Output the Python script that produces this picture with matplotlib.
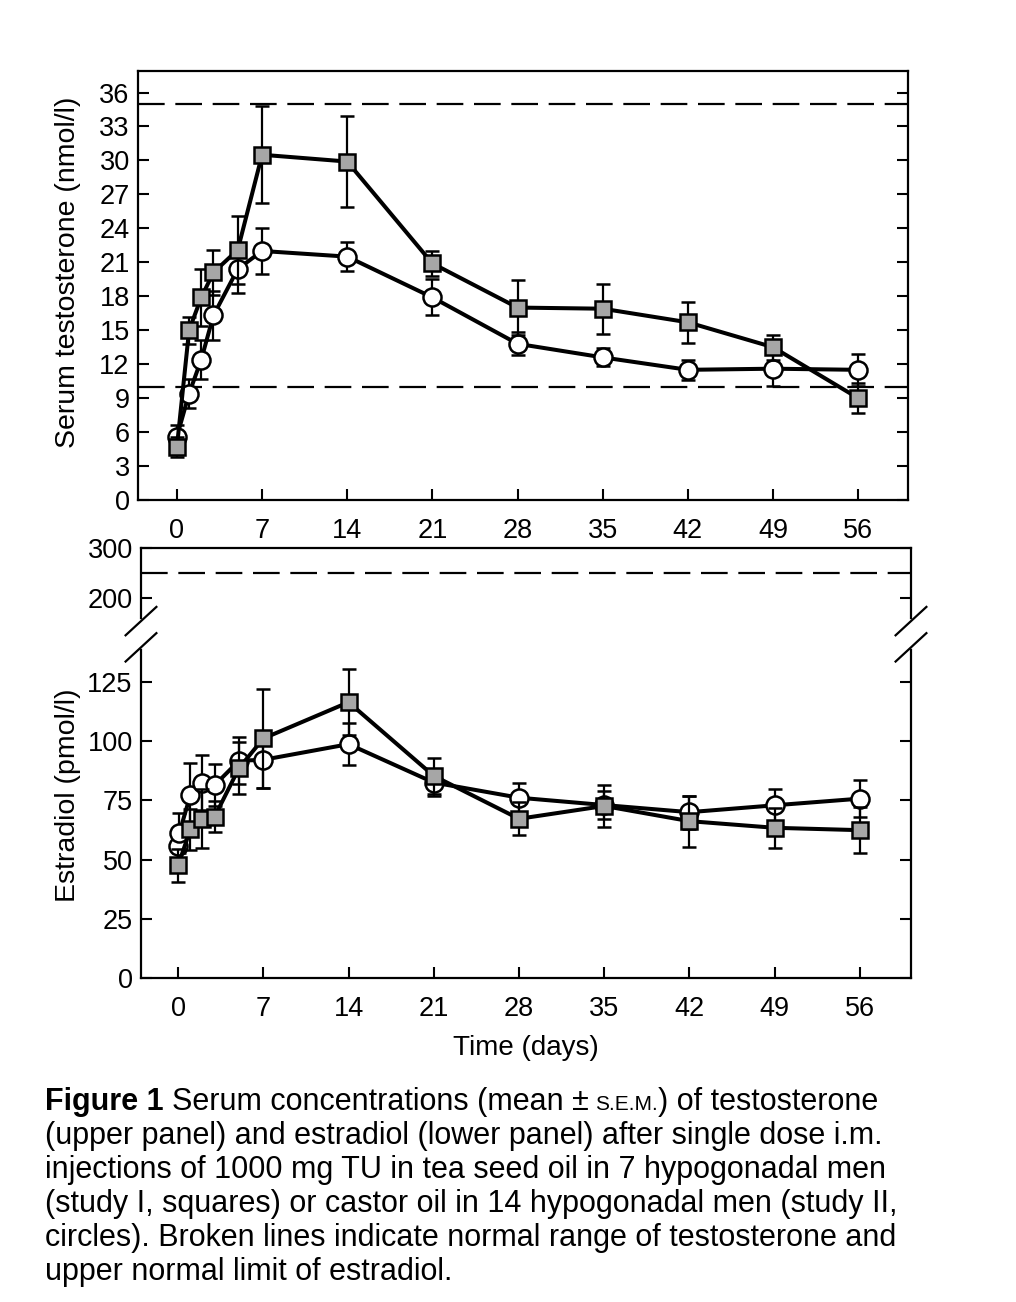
import numpy as np
import matplotlib
matplotlib.use("Agg")
import matplotlib.pyplot as plt

plt.rcParams['font.family'] = ['Liberation Sans', 'DejaVu Sans']

# sampling days
days = [0, 1, 2, 3, 5, 7, 14, 21, 28, 35, 42, 49, 56]
days_e2 = [0, 0.1, 1, 2, 3, 5, 7, 14, 21, 28, 35, 42, 49, 56]

# testosterone (nmol/l), study I squares / study II circles
testo_sq = [4.7, 15.0, 17.9, 20.1, 22.1, 30.5, 29.9, 20.9, 17.0, 16.9, 15.7, 13.5, 9.0]
testo_sq_err = [0.9, 1.2, 2.5, 2.0, 3.0, 4.3, 4.0, 1.1, 2.4, 2.2, 1.8, 1.1, 1.3]
testo_ci = [5.6, 9.4, 12.4, 16.3, 20.4, 22.0, 21.5, 17.9, 13.8, 12.6, 11.5, 11.6, 11.5]
testo_ci_err = [1.0, 1.3, 1.7, 2.2, 2.1, 2.0, 1.3, 1.6, 1.0, 0.8, 0.9, 1.5, 1.4]

# estradiol (pmol/l)
e2_sq = [47.5, 62.7, 67.2, 68.1, 88.6, 101.1, 116.4, 85.3, 67.2, 72.6, 66.2, 63.4, 62.4]
e2_sq_err = [7, 8.5, 12.4, 6.4, 11, 21, 14, 7.5, 7, 9, 10.8, 8.4, 9.6]
e2_ci = [55.6, 61.3, 77.1, 82.5, 81.4, 91.7, 92.1, 98.7, 82.5, 76.1, 73.0, 70.0, 72.9, 75.7]
e2_ci_err = [5, 8.5, 13.6, 11.6, 9, 10, 11.7, 9, 5.5, 6.4, 6, 7, 7, 7.8]

testo_range = [10, 35]
e2_upper = 250

xticks = [0, 7, 14, 21, 28, 35, 42, 49, 56]
testo_ticks = list(range(0, 37, 3))
e2_ticks = [0, 25, 50, 75, 100, 125, 200, 300]

# broken estradiol axis: compress values above BRK
BRK, K = 150.0, 0.21


def fwd(y):
    y = np.asarray(y, float)
    return np.where(y <= BRK, y, BRK + (y - BRK) * K)


def inv(u):
    u = np.asarray(u, float)
    return np.where(u <= BRK, u, BRK + (u - BRK) / K)


W, H = 1016, 1302
fig = plt.figure(figsize=(W / 100, H / 100), dpi=100)
ax1 = fig.add_axes([138 / W, 1 - 500 / H, 770 / W, 429 / H])
ax2 = fig.add_axes([141 / W, 1 - 978 / H, 770 / W, 430 / H])

dash = (0, (12, 4.8))
sq_kw = dict(marker='s', ms=11, mfc='#a6a6a6', mec='black', mew=1.8)
ci_kw = dict(marker='o', ms=13, mfc='white', mec='black', mew=1.8)
err_kw = dict(ecolor='black', elinewidth=1.6, capsize=5, capthick=1.6, color='black', lw=2.9)

# upper panel
for v in testo_range:
    ax1.axhline(v, color='black', lw=1.6, ls=dash, zorder=1)
ax1.errorbar(days, testo_ci, yerr=testo_ci_err, zorder=3, **err_kw, **ci_kw)
ax1.errorbar(days, testo_sq, yerr=testo_sq_err, zorder=4, **err_kw, **sq_kw)
ax1.set_xlim(-3.2, 60.1)
ax1.set_ylim(0, 37.9)
ax1.set_yticks(testo_ticks)
ax1.set_xticks(xticks)
ax1.set_ylabel('Serum testosterone (nmol/l)', fontsize=20.5)
ax1.yaxis.set_label_coords(-0.074, 0.53)

# lower panel
ax2.set_yscale('function', functions=(fwd, inv))
ax2.axhline(e2_upper, color='black', lw=1.6, ls=dash, zorder=1)
ax2.errorbar(days_e2, e2_ci, yerr=e2_ci_err, zorder=3, **err_kw, **ci_kw)
ax2.errorbar(days, e2_sq, yerr=e2_sq_err, zorder=4, **err_kw, **sq_kw)
ax2.set_xlim(-3.05, 60.2)
ax2.set_ylim(0, 300)
ax2.set_yticks(e2_ticks)
ax2.set_yticklabels([str(t) for t in e2_ticks])
ax2.minorticks_off()
ax2.set_xticks(xticks)
ax2.set_ylabel('Estradiol (pmol/l)', fontsize=20.5)
ax2.yaxis.set_label_coords(-0.078, 0.426)
ax2.set_xlabel('Time (days)', fontsize=20, labelpad=9)

for ax in (ax1, ax2):
    for s in ax.spines.values():
        s.set_linewidth(1.6)
    ax.tick_params(direction='in', length=8, width=1.5, labelsize=19.5,
                   right=True, top=False)
    ax.tick_params(axis='x', pad=13)
    ax.tick_params(axis='y', pad=6)

# break marks on both sides of the estradiol axis
for xa in (0, 1):
    ax2.plot([xa, xa], [0.771, 0.827], color='white', lw=4,
             transform=ax2.transAxes, clip_on=False, zorder=10)
    for yc in (0.830, 0.769):
        ax2.plot([xa - 0.02, xa + 0.02], [yc - 0.033, yc + 0.033],
                 color='black', lw=1.6, transform=ax2.transAxes,
                 clip_on=False, zorder=11)

# caption
fs = 22
renderer = fig.canvas.get_renderer()


def width_of(s, **kw):
    t = fig.text(0, 0, s, fontsize=kw.pop('size', fs), **kw)
    w = t.get_window_extent(renderer).width
    t.remove()
    return w / W


sp = width_of('x x') - width_of('xx')
sp_small = width_of('x x', size=15) - width_of('xx', size=15)

x0 = 45 / W
base = [1110, 1144, 1178, 1212, 1246, 1280]
pieces = [('Figure 1', dict(fontsize=fs, fontweight='bold'), sp),
          ('Serum concentrations (mean', dict(fontsize=fs), sp),
          ('±', dict(fontsize=fs), sp_small),
          ('S.E.M.', dict(fontsize=15), 0.0),
          (') of testosterone', dict(fontsize=fs), 0.0)]
x = x0
for s, kw, gap in pieces:
    t = fig.text(x, 1 - base[0] / H, s, va='baseline', ha='left', **kw)
    x = t.get_window_extent(renderer).x1 / W + gap

rest = ['(upper panel) and estradiol (lower panel) after single dose i.m.',
        'injections of 1000 mg TU in tea seed oil in 7 hypogonadal men',
        '(study I, squares) or castor oil in 14 hypogonadal men (study II,',
        'circles). Broken lines indicate normal range of testosterone and',
        'upper normal limit of estradiol.']
for b, s in zip(base[1:], rest):
    fig.text(x0, 1 - b / H, s, fontsize=fs, va='baseline', ha='left')

fig.savefig('out.png', dpi=100)
